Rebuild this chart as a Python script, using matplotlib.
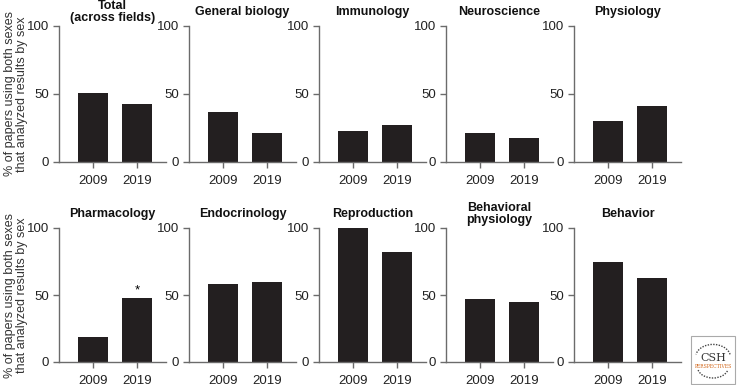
import matplotlib.pyplot as plt
from matplotlib.patches import Rectangle, Arc

plt.rcParams["font.family"] = ["Liberation Sans", "DejaVu Sans"]

YEARS = ["2009", "2019"]

FIELDS_TOP = ["Total\n(across fields)", "General biology", "Immunology",
              "Neuroscience", "Physiology"]
VALUES_TOP = [[50.5, 42.5], [36.5, 21], [23, 27], [21.5, 18], [30, 41]]

FIELDS_BOTTOM = ["Pharmacology", "Endocrinology", "Reproduction",
                 "Behavioral\nphysiology", "Behavior"]
VALUES_BOTTOM = [[19, 47.5], [58, 59.7], [100, 82], [46.8, 44.5], [74.8, 63]]

# significance markers (bottom row, per panel, per bar)
STARS_BOTTOM = [["", "*"], ["", ""], ["", ""], ["", ""], ["", ""]]

YLABEL = "% of papers using both sexes\nthat analyzed results by sex"

W, H = 739, 385
BAR_COLOR = "#231f20"
AX_COLOR = "#6b6b6b"
FS = 9.5
FS_TITLE = 9

fig = plt.figure(figsize=(W / 100, H / 100), dpi=100)

LEFTS = [59, 189, 319, 446, 574]
AX_W = 107


def make_panel(left, bottom_px, top_px, title, vals, stars=None):
    ax = fig.add_axes([left / W, (H - bottom_px) / H, AX_W / W,
                       (bottom_px - top_px) / H])
    ax.bar([0, 1], vals, width=0.68, color=BAR_COLOR)
    ax.set_xlim(-0.77, 1.66)
    ax.set_ylim(0, 100)
    ax.set_yticks([0, 50, 100])
    ax.set_xticks([0, 1])
    ax.set_xticklabels(YEARS)
    for s in ["top", "right"]:
        ax.spines[s].set_visible(False)
    for s in ["left", "bottom"]:
        ax.spines[s].set_color(AX_COLOR)
        ax.spines[s].set_linewidth(1.0)
    ax.tick_params(axis="both", direction="out", length=4, width=1.0,
                   color=AX_COLOR, labelsize=FS, labelcolor="#222222")
    ax.tick_params(axis="x", pad=5)
    ax.tick_params(axis="y", pad=3)
    h_px = bottom_px - top_px
    ax.text(0.5, 1 + 14 / h_px, title, transform=ax.transAxes,
            ha="center", va="center", fontsize=FS_TITLE, fontweight="bold",
            linespacing=1.1, color="#111111")
    if stars:
        for i, st in enumerate(stars):
            if st:
                ax.text(i, vals[i] + 1.5, st, ha="center", va="bottom",
                        fontsize=FS)
    return ax


for i, (t, v) in enumerate(zip(FIELDS_TOP, VALUES_TOP)):
    make_panel(LEFTS[i], 162, 26, t, v)

for i, (t, v) in enumerate(zip(FIELDS_BOTTOM, VALUES_BOTTOM)):
    make_panel(LEFTS[i], 362, 228, t, v, STARS_BOTTOM[i])

for yc in [94, 295]:
    fig.text(16 / W, (H - yc) / H, YLABEL, rotation=90, ha="center",
             va="center", fontsize=9, color="#333333", linespacing=1.05)

# journal logo box
lx0, ly0, lw, lh = 691 / W, (H - 384) / H, 44 / W, 48 / H
fig.patches.append(Rectangle((lx0, ly0), lw, lh, transform=fig.transFigure,
                             facecolor="white", edgecolor="#aaaaaa", lw=0.8))
fig.text(lx0 + lw / 2, ly0 + lh * 0.55, "CSH", ha="center", va="center",
         fontsize=8, family="DejaVu Serif", color="#333333")
fig.text(lx0 + lw / 2, ly0 + lh * 0.37, "PERSPECTIVES", ha="center",
         va="center", fontsize=3.3, family="DejaVu Serif", color="#d2691e")
fig.patches.append(Arc((lx0 + lw / 2, ly0 + lh * 0.55), lw * 0.8, lh * 0.55,
                       theta1=20, theta2=160, transform=fig.transFigure,
                       color="#444444", lw=1.0, linestyle=(0, (1, 1))))
fig.patches.append(Arc((lx0 + lw / 2, ly0 + lh * 0.35), lw * 0.7, lh * 0.45,
                       theta1=200, theta2=340, transform=fig.transFigure,
                       color="#444444", lw=1.0, linestyle=(0, (1, 1))))

fig.savefig("out.png", dpi=100)
